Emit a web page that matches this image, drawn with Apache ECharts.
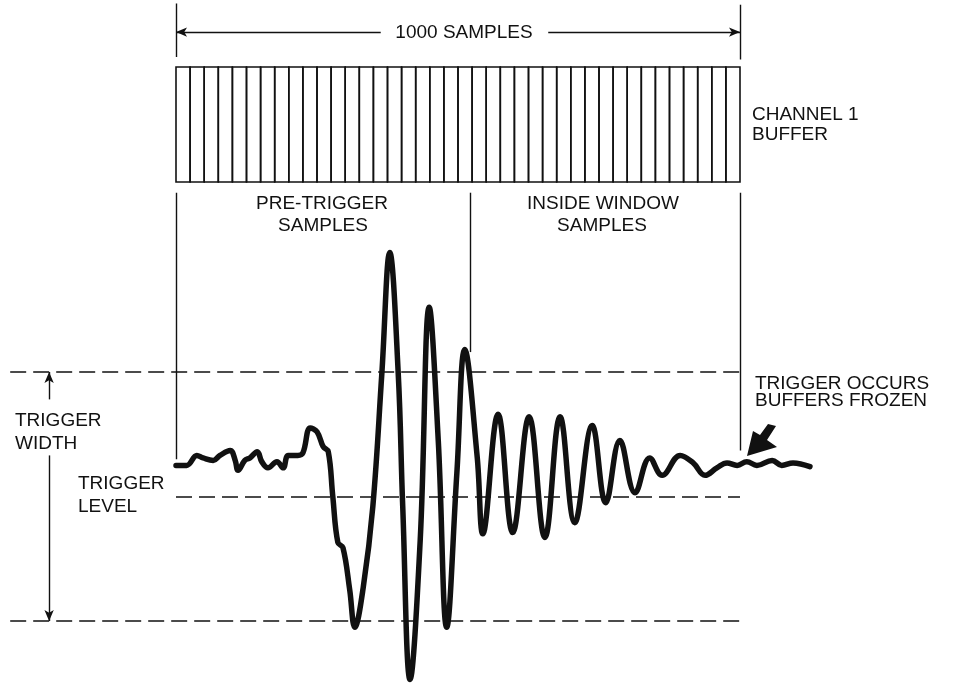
<!DOCTYPE html>
<html>
<head>
<meta charset="utf-8">
<script src="https://cdn.jsdelivr.net/npm/echarts@6/dist/echarts.min.js"></script>
<style>
  html, body { margin: 0; padding: 0; background: #fff; }
  #chart { width: 958px; height: 684px; }
</style>
</head>
<body>
<div id="chart"></div>
<script>
// buffer: 1000 samples split in 40 cells
const bufferSize = 1000;
const cellCount = 40;
const triggerSample = 521;   // boundary pre-trigger / inside window

// trigger window (level at 0, width +-1)
const triggerLevel = 0;
const triggerHigh = 1;
const triggerLow = -1;

// waveform: sample index / amplitude
const sampleIdx = [0, 19, 37, 48, 66, 78, 96, 105, 110, 122, 131, 144, 152, 163, 179, 190, 199, 216, 225,
  238, 250, 261, 270, 278, 287, 296, 308, 317, 332, 349, 365, 379, 394, 402, 415, 433, 449, 465, 480,
  498, 512, 534, 544, 571, 597, 626, 654, 681, 707, 738, 762, 787, 814, 840, 862, 894, 917, 938, 959,
  977, 995, 1012, 1030, 1057, 1074, 1094, 1124];
const waveValues = [0.25, 0.25, 0.33, 0.31, 0.29, 0.33, 0.37, 0.29, 0.21, 0.29, 0.31, 0.36, 0.28, 0.23, 0.28, 0.23, 0.33, 0.33, 0.35,
  0.55, 0.52, 0.40, 0.36, 0.0, -0.37, -0.41, -0.75, -1.05, -0.73, -0.08, 0.99, 1.96, 0.99, -0.08, -1.47, -0.35, 1.52, 0.45, -1.05,
  0.19, 1.18, 0.32, -0.30, 0.66, -0.29, 0.64, -0.33, 0.64, -0.21, 0.57, -0.05, 0.45, 0.03, 0.31, 0.17, 0.33, 0.27, 0.17, 0.23,
  0.27, 0.25, 0.28, 0.25, 0.29, 0.25, 0.27, 0.24];

const waveData = sampleIdx.map((s, i) => [s, waveValues[i]]);
const cellWidth = bufferSize / cellCount;
const cellStarts = [];
for (let i = 0; i < cellCount; i++) cellStarts.push(i * cellWidth);

// page layout (pixels)
const W = 958, H = 684;
const bufLeft = 176, bufRight = 740;
const highY = 372, lowY = 621;
const pxPerSample = (bufRight - bufLeft) / bufferSize;
const pxPerUnit = (lowY - highY) / (triggerHigh - triggerLow);
// main grid covers the whole page so every annotation stays inside the axis range
const xMin = -bufLeft / pxPerSample;
const xMax = (W - bufLeft) / pxPerSample;
const yMax = triggerHigh + highY / pxPerUnit;
const yMin = triggerLow - (H - lowY) / pxPerUnit;

const FONT = 'Liberation Sans, Arial, sans-serif';
const thin = { color: '#111', width: 1.4, type: 'solid' };
const dash = { color: '#111', width: 1.6, type: [16, 7] };

function seg(a, b, style, arrowEnd) {
  return [
    { coord: a, symbol: 'none', lineStyle: style },
    { coord: b, symbol: arrowEnd ? 'arrow' : 'none', symbolSize: [7, 11], lineStyle: style }
  ];
}

function txt(text, x, y, align) {
  return {
    type: 'text', x: x, y: y, silent: true,
    style: {
      text: text, fill: '#111', font: '19px ' + FONT, fontSize: 19, fontFamily: FONT,
      align: align || 'left', textAlign: align || 'left',
      verticalAlign: 'middle', textVerticalAlign: 'middle'
    }
  };
}

const chart = echarts.init(document.getElementById('chart'));
chart.setOption({
  backgroundColor: '#fff',
  animation: false,
  grid: [
    { left: 0, right: 0, top: 0, bottom: 0 },
    { left: bufLeft, right: W - bufRight, top: 67, height: 115 }
  ],
  xAxis: [
    { type: 'value', min: xMin, max: xMax, show: false, gridIndex: 0 },
    { type: 'value', min: 0, max: bufferSize, show: false, gridIndex: 1 }
  ],
  yAxis: [
    { type: 'value', min: yMin, max: yMax, show: false, gridIndex: 0 },
    { type: 'value', min: 0, max: 1, show: false, gridIndex: 1 }
  ],
  series: [
    {
      type: 'line',
      data: waveData,
      smooth: 0.4,
      showSymbol: false,
      symbol: 'none',
      lineStyle: { color: '#111', width: 5.5, cap: 'round', join: 'round' },
      markLine: {
        silent: true,
        label: { show: false },
        data: [
          // trigger window
          seg([-294, triggerHigh], [bufferSize, triggerHigh], dash),
          seg([0, triggerLevel], [bufferSize, triggerLevel], dash),
          seg([-294, triggerLow], [bufferSize, triggerLow], dash),
          // trigger width arrows
          seg([-225, 0.78], [-225, triggerHigh], thin, true),
          seg([-225, 0.33], [-225, triggerLow], thin, true),
          // buffer span brackets
          seg([0, 3.96], [0, 3.53], thin),
          seg([bufferSize, 3.95], [bufferSize, 3.51], thin),
          seg([363, 3.73], [0, 3.73], thin, true),
          seg([660, 3.73], [bufferSize, 3.73], thin, true),
          // sample regions
          seg([0, 2.44], [0, 0.30], thin),
          seg([triggerSample, 2.44], [triggerSample, 1.16], thin),
          seg([bufferSize, 2.44], [bufferSize, 0.37], thin)
        ]
      }
    },
    {
      type: 'custom',
      xAxisIndex: 1,
      yAxisIndex: 1,
      clip: false,
      silent: true,
      data: cellStarts,
      renderItem: function (params, api) {
        const a = api.coord([api.value(0), 1]);
        const b = api.coord([api.value(0) + cellWidth, 0]);
        return {
          type: 'rect',
          shape: { x: a[0], y: a[1], width: b[0] - a[0], height: b[1] - a[1] },
          style: { fill: 'none', stroke: '#111', lineWidth: 1.6 }
        };
      }
    }
  ],
  graphic: [
    txt('1000 SAMPLES', 464, 33, 'center'),
    txt('CHANNEL 1', 752, 115),
    txt('BUFFER', 752, 135),
    txt('PRE-TRIGGER', 322, 204, 'center'),
    txt('SAMPLES', 323, 226, 'center'),
    txt('INSIDE WINDOW', 603, 204, 'center'),
    txt('SAMPLES', 602, 226, 'center'),
    txt('TRIGGER', 15, 421),
    txt('WIDTH', 15, 444),
    txt('TRIGGER', 78, 484),
    txt('LEVEL', 78, 507),
    txt('TRIGGER OCCURS', 755, 384),
    txt('BUFFERS FROZEN', 755, 401),
    {
      type: 'polygon', silent: true,
      shape: { points: [[768, 424], [776, 426], [767, 440], [777, 447], [747, 456], [753, 431], [760, 435]] },
      style: { fill: '#111' }
    }
  ]
});
</script>
</body>
</html>
